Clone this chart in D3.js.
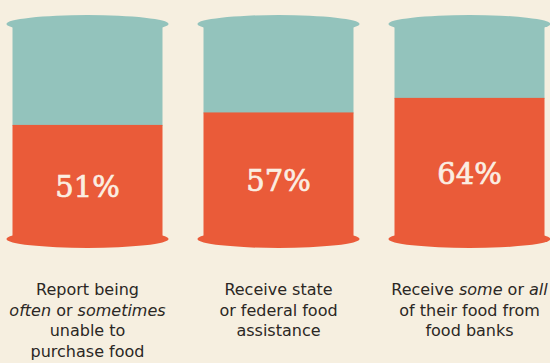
<!DOCTYPE html>
<html>
<head>
<meta charset="utf-8">
<script src="https://cdn.jsdelivr.net/npm/d3@7"></script>
<style>
  html, body { margin: 0; padding: 0; background: #f6efe0; }
  svg { display: block; }
</style>
</head>
<body>
<div id="wrapper"></div>
<script>
// data
const categories = ["unable", "assistance", "foodbanks"]
const percents = [51, 57, 64]
// each label line is a list of [text, isItalic] pieces
const labelLines = [
  [[["Report being", false]],
   [["often", true], [" or ", false], ["sometimes", true]],
   [["unable to", false]],
   [["purchase food", false]]],
  [[["Receive state", false]],
   [["or federal food", false]],
   [["assistance", false]]],
  [[["Receive ", false], ["some", true], [" or ", false], ["all", true]],
   [["of their food from", false]],
   [["food banks", false]]]
]

const dataset = categories.map((c, i) => ({ key: c, value: percents[i], lines: labelLines[i] }))

// dimensions
const width = 550
const height = 363
const bodyWidth = 150
const capRx = 81
const capRy = 9

const svg = d3.select("#wrapper")
  .append("svg")
  .attr("width", width)
  .attr("height", height)

svg.append("rect")
  .attr("width", width)
  .attr("height", height)
  .attr("fill", "#f6efe0")

// scales
const xScale = d3.scalePoint()
  .domain(categories)
  .range([87.5, 469.5])

const yScale = d3.scaleLinear()
  .domain([0, 100])
  .range([231, 23])

const teal = "#93c3bc"
const orange = "#ea5b39"

const barrels = svg.selectAll("g.barrel")
  .data(dataset)
  .join("g")
  .attr("class", "barrel")
  .attr("transform", d => `translate(${xScale(d.key)},0)`)

// top cap
barrels.append("ellipse")
  .attr("cx", 0)
  .attr("cy", yScale(100) + 1)
  .attr("rx", capRx)
  .attr("ry", capRy)
  .attr("fill", teal)

// empty part
barrels.append("rect")
  .attr("x", -bodyWidth / 2)
  .attr("y", yScale(100) + 1)
  .attr("width", bodyWidth)
  .attr("height", d => yScale(d.value) - yScale(100))
  .attr("fill", teal)

// bottom cap
barrels.append("ellipse")
  .attr("cx", 0)
  .attr("cy", yScale(0) + 8)
  .attr("rx", capRx)
  .attr("ry", capRy)
  .attr("fill", orange)

// filled part
barrels.append("rect")
  .attr("x", -bodyWidth / 2)
  .attr("y", d => yScale(d.value))
  .attr("width", bodyWidth)
  .attr("height", d => yScale(0) + 8 - yScale(d.value))
  .attr("fill", orange)

// percent label, centred in orange part incl. base
barrels.append("text")
  .attr("x", 0)
  .attr("y", d => (yScale(d.value) + yScale(0) + 17) / 2 + 11)
  .attr("text-anchor", "middle")
  .attr("font-family", "DejaVu Serif")
  .attr("font-size", 29)
  .attr("fill", "#fbeee2")
  .attr("stroke", "#fbeee2")
  .attr("stroke-width", 0.7)
  .text(d => d.value + "%")

// category labels
const labels = barrels.append("text")
  .attr("text-anchor", "middle")
  .attr("font-family", "DejaVu Sans")
  .attr("font-size", 16)
  .attr("fill", "#2b2724")

labels.selectAll("tspan.line")
  .data(d => d.lines)
  .join("tspan")
  .attr("class", "line")
  .attr("x", 0)
  .attr("y", (d, i) => 295 + i * 20.5)
  .selectAll("tspan")
  .data(d => d)
  .join("tspan")
  .attr("font-style", d => d[1] ? "italic" : "normal")
  .style("white-space", "pre")
  .text(d => d[0])
</script>
</body>
</html>
